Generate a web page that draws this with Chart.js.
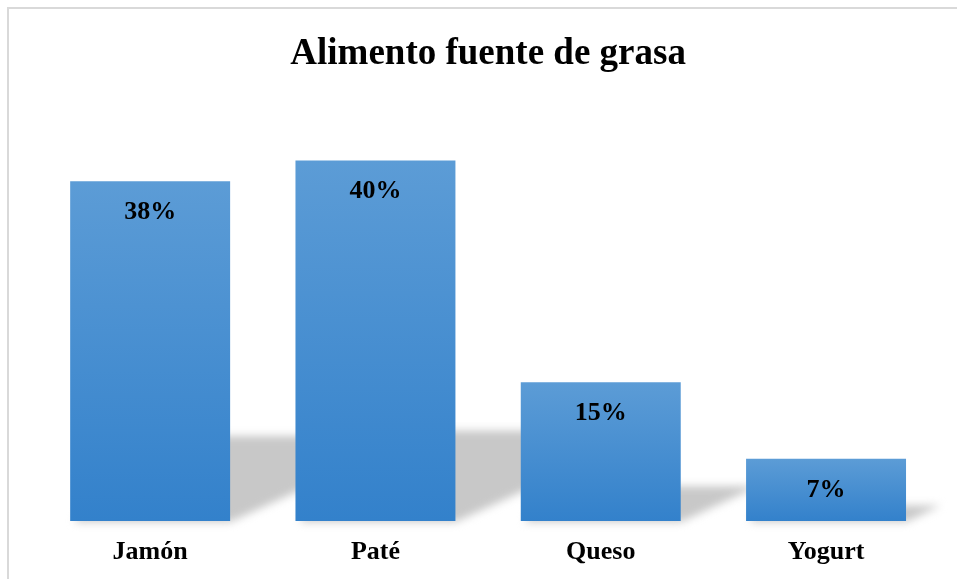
<!DOCTYPE html>
<html lang="es">
<head>
<meta charset="utf-8">
<title>Alimento fuente de grasa</title>
<script src="https://cdn.jsdelivr.net/npm/chart.js@4/dist/chart.umd.min.js"></script>
<style>
    html, body { margin: 0; padding: 0; background: #ffffff; }
    #wrap { width: 957px; height: 579px; position: relative; }
</style>
</head>
<body>
<div id="wrap"><canvas id="grasaChart"></canvas></div>
<script>
    // Data (bar heights), labels shown rounded
    const categories = ['Jamón', 'Paté', 'Queso', 'Yogurt'];
    const percentages = [37.7, 40, 15.4, 6.9];
    const chartTitle = 'Alimento fuente de grasa';

    const serif = "'Liberation Serif', 'Times New Roman', serif";

    // per-bar vertical gradient, light on top, darker at the base
    function barGradient(context) {
        const chart = context.chart;
        const yScale = chart.scales.y;
        if (context.type !== 'data' || !yScale) {
            return '#5b9bd5';
        }
        const top = yScale.getPixelForValue(context.raw);
        const base = yScale.getPixelForValue(0);
        if (!isFinite(top) || !isFinite(base) || top === base) {
            return '#5b9bd5';
        }
        const g = chart.ctx.createLinearGradient(0, top, 0, base);
        g.addColorStop(0, 'rgb(92, 156, 214)');
        g.addColorStop(1, 'rgb(51, 129, 203)');
        return g;
    }

    // frame + white background
    const framePlugin = {
        id: 'frame',
        beforeDraw(chart) {
            const ctx = chart.ctx;
            ctx.save();
            ctx.fillStyle = '#ffffff';
            ctx.fillRect(0, 0, chart.width, chart.height);
            ctx.strokeStyle = '#d9d9d9';
            ctx.lineWidth = 2;
            ctx.strokeRect(8, 8, chart.width + 10, chart.height + 10);
            ctx.restore();
        }
    };

    // slanted perspective shadow behind every bar
    const shadowPlugin = {
        id: 'barShadow',
        beforeDatasetsDraw(chart) {
            const ctx = chart.ctx;
            const meta = chart.getDatasetMeta(0);
            ctx.save();
            ctx.filter = 'blur(4px)';
            ctx.fillStyle = 'rgb(200, 200, 200)';
            meta.data.forEach(function (bar) {
                const p = bar.getProps(['x', 'y', 'base', 'width'], true);
                const x0 = p.x - p.width / 2;
                const x1 = p.x + p.width / 2;
                const h = (p.base - p.y) * 0.25;
                const skew = h / 0.45;
                ctx.beginPath();
                ctx.moveTo(x0 + 4, p.base + 1);
                ctx.lineTo(x1, p.base + 1);
                ctx.lineTo(x1 + skew, p.base - h);
                ctx.lineTo(x0 + skew * 0.3, p.base - h);
                ctx.closePath();
                ctx.fill();
            });
            ctx.restore();
        }
    };

    // value labels inside the top of each bar
    const valueLabelPlugin = {
        id: 'valueLabels',
        afterDatasetsDraw(chart) {
            const ctx = chart.ctx;
            const meta = chart.getDatasetMeta(0);
            ctx.save();
            ctx.font = 'bold 26px ' + serif;
            ctx.fillStyle = '#000000';
            ctx.textAlign = 'center';
            ctx.textBaseline = 'middle';
            meta.data.forEach(function (bar, i) {
                const p = bar.getProps(['x', 'y'], true);
                ctx.fillText(Math.round(percentages[i]) + '%', p.x, p.y + 31);
            });
            ctx.restore();
        }
    };

    document.addEventListener('DOMContentLoaded', function () {
        const grasaCtx = document.getElementById('grasaChart');
        new Chart(grasaCtx, {
            type: 'bar',
            data: {
                labels: categories,
                datasets: [{
                    label: chartTitle,
                    data: percentages,
                    backgroundColor: barGradient,
                    borderWidth: 0,
                    categoryPercentage: 1,
                    barPercentage: 0.71
                }]
            },
            options: {
                responsive: true,
                maintainAspectRatio: false,
                animation: false,
                layout: {
                    padding: { left: 37.5, right: 18.3, top: 0, bottom: 0 }
                },
                plugins: {
                    legend: { display: false },
                    tooltip: { enabled: false },
                    title: {
                        display: true,
                        text: chartTitle,
                        color: '#000000',
                        font: { family: serif, size: 37, weight: 'bold' },
                        padding: { top: 32, bottom: 39 }
                    }
                },
                scales: {
                    y: {
                        display: false,
                        min: 0,
                        max: 45
                    },
                    x: {
                        grid: { display: false, drawTicks: false },
                        border: { display: false },
                        ticks: {
                            color: '#000000',
                            padding: 16,
                            font: { family: serif, size: 26, weight: 'bold' }
                        },
                        afterFit: function (scale) {
                            scale.height = 58;
                        }
                    }
                }
            },
            plugins: [framePlugin, shadowPlugin, valueLabelPlugin]
        });
    });
</script>
</body>
</html>
